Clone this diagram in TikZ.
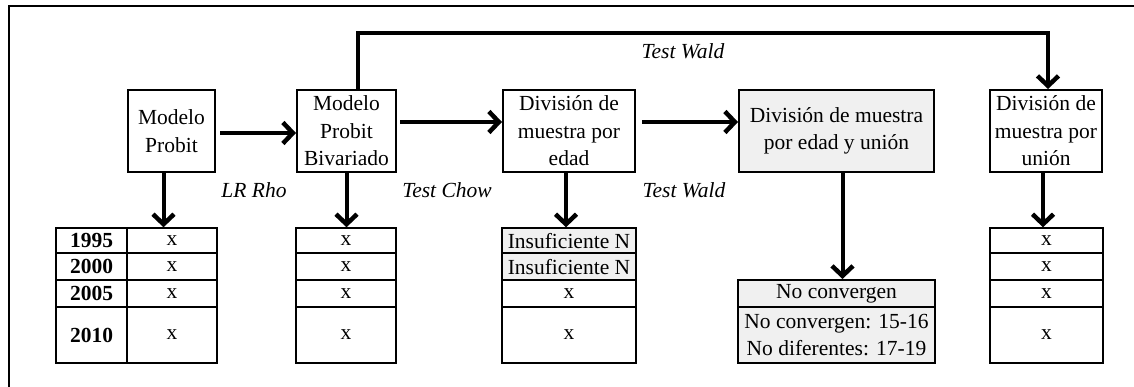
\documentclass[tikz,border=0pt]{standalone}
\usepackage{fontspec}
\setmainfont{Liberation Serif}
\usetikzlibrary{arrows.meta,calc}
\definecolor{lg}{HTML}{F0F0F0}
\tikzset{
 box/.style={draw, line width=2pt, align=center, inner sep=1pt, minimum height=82pt, font=\fontsize{21.5}{27.5}\selectfont},
 cell/.style={draw, line width=2pt, inner sep=0pt, align=center, font=\fontsize{21.5}{27}\selectfont},
 arr/.style={line width=4pt, -{Straight Barb[length=10pt,width=21pt,line width=4.5pt]}},
 lab/.style={font=\fontsize{21.5}{24}\selectfont\itshape},
}
\begin{document}
\begin{tikzpicture}[x=1pt,y=-1pt]
\useasboundingbox (0,0) rectangle (1134,387);
\draw[line width=2pt] (9,392) -- (9,6) -- (1140,6);

% main boxes
\node[box, minimum width=87pt] (probit) at (171.5,131) {Modelo\\Probit};
\node[box, minimum width=99pt] (biv) at (346.5,131) {Modelo\\Probit\\Bivariado};
\node[box, minimum width=132pt] (edad) at (569,131) {División de\\muestra por\\edad};
\node[box, minimum width=195pt, fill=lg] (eu) at (836.5,131) {División de muestra\\por edad y unión};
\node[box, minimum width=112pt] (un) at (1046,131) {División de\\muestra por\\unión};

% table 1
\node[cell, minimum width=71pt, minimum height=25pt] (t1a1) at (91.5,240.8) {\textbf{1995}};
\node[cell, minimum width=90pt, minimum height=25pt] (t1b1) at (172,240.8) {x};
\node[cell, minimum width=71pt, minimum height=26.7pt] (t1a2) at (91.5,266.7) {\textbf{2000}};
\node[cell, minimum width=90pt, minimum height=26.7pt] (t1b2) at (172,266.7) {x};
\node[cell, minimum width=71pt, minimum height=26.7pt] (t1a3) at (91.5,293.3) {\textbf{2005}};
\node[cell, minimum width=90pt, minimum height=26.7pt] (t1b3) at (172,293.3) {x};
\node[cell, minimum width=71pt, minimum height=56.7pt] (t1a4) at (91.5,335) {\textbf{2010}};
\node[cell, minimum width=90pt, minimum height=56.7pt] (t1b4) at (172,335) {x};

% table 2
\node[cell, minimum width=100pt, minimum height=25pt] (t2a) at (346,240.8) {x};
\node[cell, minimum width=100pt, minimum height=26.7pt] (t2b) at (346,266.7) {x};
\node[cell, minimum width=100pt, minimum height=26.7pt] (t2c) at (346,293.3) {x};
\node[cell, minimum width=100pt, minimum height=56.7pt] (t2d) at (346,335) {x};

% table 3
\node[cell, minimum width=134pt, minimum height=25pt, fill=lg] (t3a) at (569,240.8) {Insuficiente N};
\node[cell, minimum width=134pt, minimum height=26.7pt, fill=lg] (t3b) at (569,266.7) {Insuficiente N};
\node[cell, minimum width=134pt, minimum height=26.7pt] (t3c) at (569,293.3) {x};
\node[cell, minimum width=134pt, minimum height=56.7pt] (t3d) at (569,335) {x};

% table 4
\node[cell, minimum width=197pt, minimum height=27pt, fill=lg] (t4a) at (836.5,293.5) {No convergen};
\node[cell, minimum width=197pt, minimum height=56pt, fill=lg] (t4b) at (836.5,335) {No convergen: 15-16\\No diferentes: 17-19};

% table 5
\node[cell, minimum width=113pt, minimum height=25pt] (t5a) at (1046.5,240.8) {x};
\node[cell, minimum width=113pt, minimum height=26.7pt] (t5b) at (1046.5,266.7) {x};
\node[cell, minimum width=113pt, minimum height=26.7pt] (t5c) at (1046.5,293.3) {x};
\node[cell, minimum width=113pt, minimum height=56.7pt] (t5d) at (1046.5,335) {x};

% labels
\node[lab] (lr) at (254,190) {LR Rho};
\node[lab] (chow) at (447,190) {Test Chow};
\node[lab] (wald1) at (684,190) {Test Wald};
\node[lab] (wald2) at (683,51) {Test Wald};

% horizontal arrows
\draw[arr] ([xshift=4pt,yshift=-2pt]probit.east) -- ([yshift=-2pt]biv.west);
\draw[arr] ([xshift=3pt,yshift=9pt]biv.east) -- ([yshift=9pt]edad.west);
\draw[arr] ([xshift=6pt,yshift=9pt]edad.east) -- ([yshift=9pt]eu.west);

% top connector
\coordinate (tw) at (700,33);
\draw[arr] ([xshift=11pt]biv.north) |- (tw) -| ([xshift=2pt]un.north);

% vertical arrows
\draw[arr] ([xshift=-8pt]probit.south) -- ([xshift=-8pt]probit.south |- t1b1.north);
\draw[arr] (biv.south) -- (biv.south |- t2a.north);
\draw[arr] ([xshift=-3pt]edad.south) -- ([xshift=-3pt]edad.south |- t3a.north);
\draw[arr] ([xshift=6pt]eu.south) -- ([xshift=6pt]eu.south |- t4a.north);
\draw[arr] ([xshift=-3pt]un.south) -- ([xshift=-3pt]un.south |- t5a.north);
\end{tikzpicture}
\end{document}
